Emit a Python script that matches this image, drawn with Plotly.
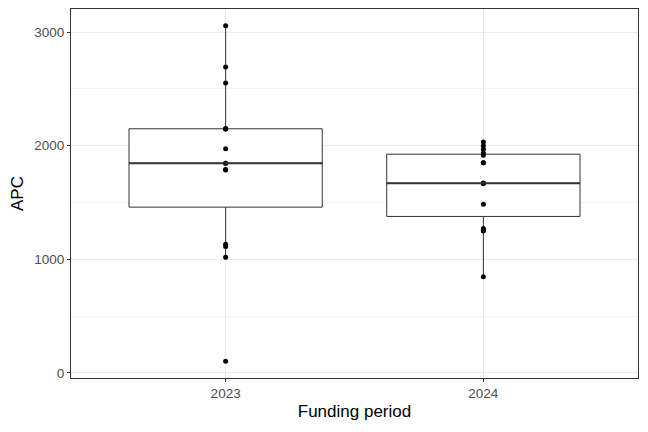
import numpy as np
import plotly.graph_objects as go

periods = ["2023", "2024"]
apc_2023 = [103, 1018, 1112, 1132, 1786, 1790, 1845, 1845, 1973,
            2147, 2147, 2150, 2551, 2692, 3055]
apc_2024 = [847, 1249, 1262, 1270, 1484, 1669, 1669, 1669, 1850,
            1850, 1915, 1935, 1968, 2000, 2032]

groups = [apc_2023, apc_2024]

fig = go.Figure()
for name, vals in zip(periods, groups):
    fig.add_trace(go.Box(
        x=[name] * len(vals), y=vals, name=name,
        boxpoints="all", jitter=0, pointpos=0,
        quartilemethod="inclusive",
        width=0.75, whiskerwidth=0,
        fillcolor="white",
        line=dict(color="#333333", width=1),
        marker=dict(color="black", size=5),
        showlegend=False,
    ))

# ggplot draws the median thicker
for i, vals in enumerate(groups):
    m = float(np.median(vals))
    fig.add_shape(type="line", xref="x", yref="y",
                  x0=i - 0.375, x1=i + 0.375, y0=m, y1=m,
                  line=dict(color="#333333", width=2))

# page body has an 8px margin, so the figure sits 8px right/down
fig.update_layout(
    width=648, height=432,
    margin=dict(l=63, r=18, t=1, b=62),
    plot_bgcolor="white", paper_bgcolor="white",
    font=dict(family="Liberation Sans, Arial, sans-serif", color="black"),
    xaxis=dict(
        type="category", categoryorder="array", categoryarray=periods,
        range=[-0.6, 1.6], automargin=False,
        title=dict(text="Funding period", font=dict(size=17), standoff=4),
        showgrid=True, gridcolor="#EBEBEB", gridwidth=1,
        showline=True, mirror=True, linecolor="#333333", linewidth=1,
        ticks="outside", ticklen=3, tickcolor="#333333",
        tickfont=dict(size=13.5, color="#4D4D4D"),
        zeroline=False,
    ),
    yaxis=dict(
        range=[-44.6, 3202.6], automargin=False,
        tick0=0, dtick=1000,
        title=dict(text="APC", font=dict(size=17), standoff=12),
        showgrid=True, gridcolor="#EBEBEB", gridwidth=1,
        minor=dict(dtick=500, showgrid=True, gridcolor="#F3F3F3", gridwidth=0.6),
        showline=True, mirror=True, linecolor="#333333", linewidth=1,
        ticks="outside", ticklen=3, tickcolor="#333333",
        tickfont=dict(size=13.5, color="#4D4D4D"),
        zeroline=False,
    ),
)

fig.write_html("out.html")
